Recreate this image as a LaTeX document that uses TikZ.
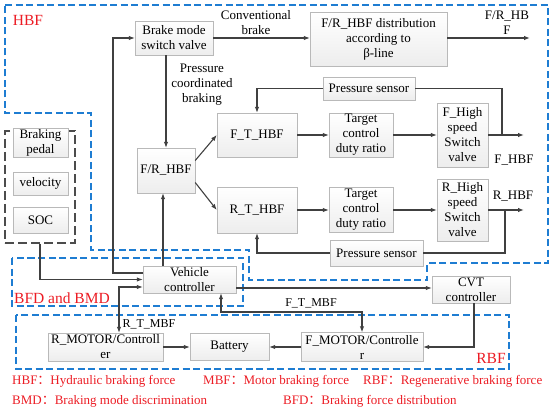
\documentclass[tikz,border=0pt]{standalone}
\usepackage{fontspec}
\setmainfont{Liberation Serif}
\newfontfamily\cjk{Noto Sans CJK SC}
\usetikzlibrary{arrows.meta}
\definecolor{lineg}{RGB}{64,64,64}
\definecolor{dblue}{RGB}{30,125,210}
\definecolor{lred}{RGB}{236,28,36}
\tikzset{
  blk/.style={draw=gray!55, top color=white, bottom color=gray!14, inner sep=1pt, align=center,
    font=\fontsize{13}{15}\selectfont},
  conn/.style={draw=lineg, line width=1.1pt},
  arr/.style={conn, -{Latex[length=6pt,width=4.5pt]}},
  biarr/.style={conn, {Latex[length=6pt,width=4.5pt]}-{Latex[length=6pt,width=4.5pt]}},
  zone/.style={draw=dblue, line width=1.4pt, dash pattern=on 7pt off 3.5pt},
  grpzone/.style={draw=black!70, line width=1.1pt, dash pattern=on 9pt off 4pt},
  lbl/.style={align=center, font=\fontsize{13}{15}\selectfont, inner sep=0pt},
  slbl/.style={align=center, font=\fontsize{12}{14}\selectfont, inner sep=0pt},
  zlbl/.style={text=lred, font=\fontsize{15.5}{18}\selectfont, inner sep=0pt},
  legend/.style={text=lred, font=\fontsize{13}{15}\selectfont, inner sep=0pt, anchor=west}
}
\begin{document}
\begin{tikzpicture}[x=1pt,y=-1pt]
\useasboundingbox (0,0) rectangle (550,412);
% zones
\draw[zone] (5,5) -- (548,5) -- (548,263) -- (427,263) -- (427,280) -- (249,280) -- (249,250) -- (91,250) -- (91,113) -- (5,113) -- cycle;
\draw[zone] (12,258) rectangle (243,306);
\draw[zone] (16,315) rectangle (509,369);
% group box
\node[grpzone, minimum width=70pt, minimum height=112pt, inner sep=0pt] (grp) at (40,187) {};
\node[blk, minimum width=55pt, minimum height=24pt] (bp) at (40.5,143) {Braking\\pedal};
\node[blk, minimum width=55pt, minimum height=23pt] (vel) at (40.5,183.5) {velocity};
\node[blk, minimum width=55pt, minimum height=26pt] (soc) at (40.5,220) {SOC};
% blocks
\node[blk, minimum width=78pt, minimum height=34pt] (bmsv) at (174,38) {Brake mode\\switch valve};
\node[blk, minimum width=137pt, minimum height=54pt] (dist) at (378.5,39) {F/R\_HBF distribution\\according to\\β-line};
\node[blk, minimum width=92pt, minimum height=23pt] (ps1) at (369,88.5) {Pressure sensor};
\node[blk, minimum width=58pt, minimum height=45pt] (frhbf) at (166,170.5) {F/R\_HBF};
\node[blk, minimum width=80pt, minimum height=44pt] (fthbf) at (257,135) {F\_T\_HBF};
\node[blk, minimum width=80pt, minimum height=46pt] (rthbf) at (257,210) {R\_T\_HBF};
\node[blk, minimum width=64pt, minimum height=44pt] (tc1) at (361,135) {Target\\control\\duty ratio};
\node[blk, minimum width=64pt, minimum height=45pt] (tc2) at (361,210) {Target\\control\\duty ratio};
\node[blk, minimum width=51pt, minimum height=64pt] (fhs) at (462.5,135) {F\_High\\speed\\Switch\\valve};
\node[blk, minimum width=51pt, minimum height=62pt] (rhs) at (462.5,210) {R\_High\\speed\\Switch\\valve};
\node[blk, minimum width=93pt, minimum height=26pt] (ps2) at (376.5,253) {Pressure sensor};
\node[blk, minimum width=93pt, minimum height=27pt] (vc) at (189.5,279.5) {Vehicle\\controller};
\node[blk, minimum width=78pt, minimum height=27pt] (cvt) at (471,289.5) {CVT\\controller};
\node[blk, minimum width=115pt, minimum height=28pt] (rmot) at (105.5,347) {R\_MOTOR/Controll\\er};
\node[blk, minimum width=79pt, minimum height=27pt] (bat) at (229.5,347) {Battery};
\node[blk, minimum width=122pt, minimum height=29pt] (fmot) at (362,347) {F\_MOTOR/Controlle\\r};
% coordinates
\coordinate (frout) at (530,38);
\coordinate (fout) at (524,135);
\coordinate (rout) at (524,210);
\coordinate (j1) at (502,135);
\coordinate (j2) at (505,210);
\coordinate (ftm) at (362,312);
% connectors
\draw[arr] ([yshift=6.5pt]vc.west) -- (113,273) |- (bmsv.west);
\draw[arr] (bmsv.east) -- (bmsv.east -| dist.west);
\draw[arr] (dist.east |- bmsv.east) -- (frout);
\draw[arr] ([xshift=-8pt]bmsv.south) -- (frhbf.north);
\draw[arr] ([xshift=-26.5pt]vc.north) -- ([xshift=-3pt]frhbf.south);
\draw[arr] ([yshift=10pt]frhbf.east) -- (fthbf.west);
\draw[arr] ([yshift=-12pt]frhbf.east) -- (rthbf.west);
\draw[arr] (fthbf.east) -- (tc1.west);
\draw[arr] (tc1.east) -- (fhs.west);
\draw[arr] (fhs.east) -- (fout);
\draw[arr] (rthbf.east) -- (tc2.west);
\draw[arr] (tc2.east) -- (rhs.west);
\draw[arr] (rhs.east) -- (rout);
\draw[conn] (j1) |- (ps1.east);
\draw[arr] (ps1.west) -| (fthbf.north);
\draw[conn] (j2) |- (ps2.east);
\draw[arr] (ps2.west) -| (rthbf.south);
\draw[arr] (grp.south) |- (vc.west);
\draw[biarr] ([xshift=13.5pt]rmot.north) |- ([yshift=-7.5pt]vc.west);
\draw[arr] ([yshift=-8.5pt]vc.east) -- ([yshift=-8.5pt]vc.east -| cvt.west);
\draw[biarr] ([xshift=31.5pt]vc.south) |- (ftm) -- (fmot.north);
\draw[arr] ([xshift=3pt]cvt.south) |- (fmot.east);
\draw[arr] (fmot.west) -- (bat.east);
\draw[arr] (rmot.east) -- (bat.west);
% labels
\node[lbl] (lconv) at (256,23) {Conventional\\brake};
\node[lbl] (lpcb) at (202,85) {Pressure\\coordinated\\braking};
\node[lbl] (lfr) at (507,23) {F/R\_HB\\F};
\node[lbl] (lf) at (514,160) {F\_HBF};
\node[lbl] (lr) at (513,196) {R\_HBF};
\node[slbl] (lrt) at (149,324) {R\_T\_MBF};
\node[slbl] (lft) at (311,303) {F\_T\_MBF};
\node[zlbl] (zh) at (28,20) {HBF};
\node[zlbl] (zb) at (62,298) {BFD and BMD};
\node[zlbl] (zr) at (491,358) {RBF};
\node[legend] (g1) at (12,381) {HBF{\cjk ：}Hydraulic braking force};
\node[legend] (g2) at (203,381) {MBF{\cjk ：}Motor braking force};
\node[legend] (g3) at (363,381) {RBF{\cjk ：}Regenerative braking force};
\node[legend] (g4) at (12,401) {BMD{\cjk ：}Braking mode discrimination};
\node[legend] (g5) at (283,401) {BFD{\cjk ：}Braking force distribution};
\end{tikzpicture}
\end{document}
